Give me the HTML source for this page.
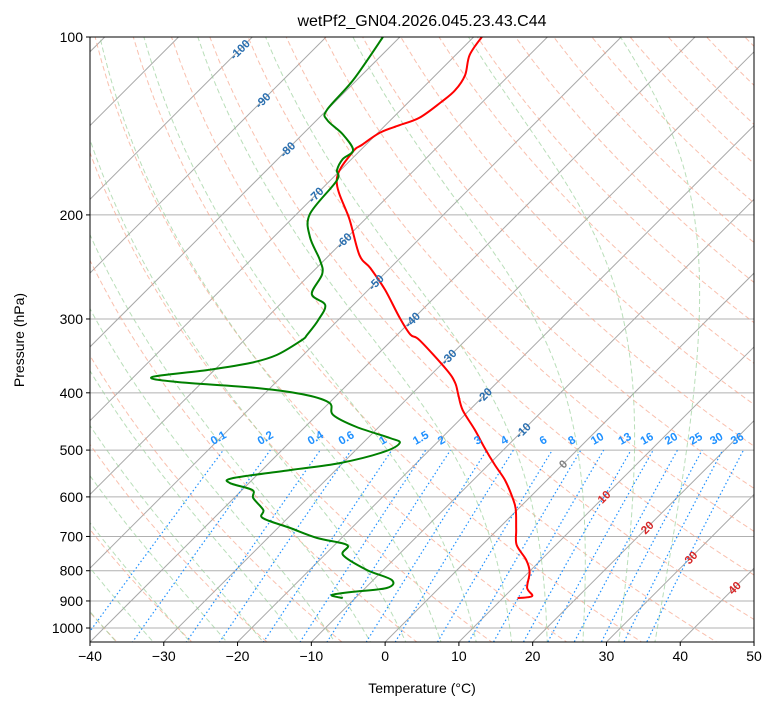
<!DOCTYPE html>
<html><head><meta charset="utf-8"><style>
body{margin:0;background:#fff;}
svg{display:block;font-family:"Liberation Sans","DejaVu Sans",sans-serif;}
</style></head><body>
<svg id="chart" width="775" height="708" viewBox="0 0 775 708">
<defs><clipPath id="plotclip"><rect x="90" y="37" width="664" height="605"/></clipPath></defs>
<rect width="775" height="708" fill="#fff"/>
<g id="bg" clip-path="url(#plotclip)"></g>
<g id="series" clip-path="url(#plotclip)"></g>
<g id="annot"></g>
<rect x="90" y="37" width="664" height="605" fill="none" stroke="#000" stroke-width="1"/>
<g id="axes"></g>
<text x="422" y="26" text-anchor="middle" font-size="16">wetPf2_GN04.2026.045.23.43.C44</text>
<text x="422" y="693" text-anchor="middle" font-size="14">Temperature (°C)</text>
<text transform="translate(24,340) rotate(-90)" text-anchor="middle" font-size="14">Pressure (hPa)</text>
</svg>
<script>
// ---- data ----
const tempP = [100,107.3,116,123,129,137,141,145,152,157,175,204,234,246,268,299,319,326,366,385,403,428,462,496,530,562,603,631,683,724,767,804,855,883,890];
const tempT = [-68.9,-68.1,-66.0,-65.3,-65.6,-66.4,-68.1,-69.7,-70.5,-70.8,-69.1,-62.0,-55.9,-52.7,-47.7,-41.9,-38.2,-36.2,-28.5,-25.6,-23.6,-20.9,-16.6,-12.8,-9.1,-5.7,-2.2,-0.2,2.6,4.7,8.0,10.1,11.9,13.7,12.0];
const dewP = [100,118.2,132.9,138.2,146,155.4,160.9,167.9,175,199.3,217.9,238.5,251.8,272.2,284.1,301.2,319.3,325.6,345.2,356.1,366.1,376.1,383.5,392.6,403.5,416.3,436.1,457,477,486.4,503.9,526,540.5,557.5,568.5,584.2,602.6,631.5,651.5,677.4,704.3,723.8,752.5,797.9,829.5,855.8,869.4,879.6,889.9];
const dewT = [-82.3,-80.5,-80.0,-78.6,-74.6,-71.0,-71.2,-70.5,-69.1,-68.2,-65.1,-60.6,-58.4,-57.1,-53.8,-52.7,-52.2,-52.2,-53.6,-56.1,-61.0,-67.5,-63.4,-51.8,-44.1,-39.9,-37.8,-33.0,-27.0,-25.0,-26.0,-30.4,-36.2,-42.8,-42.6,-38.6,-37.4,-34.4,-33.4,-28.3,-23.3,-18.3,-17.5,-12.2,-7.5,-7.1,-11.5,-13.6,-11.7];
const xTicks = [-40,-30,-20,-10,0,10,20,30,40,50];
const pTicks = [100,200,300,400,500,600,700,800,900,1000];
const isotherms = [-130,-120,-110,-100,-90,-80,-70,-60,-50,-40,-30,-20,-10,0,10,20,30,40,50];
const dryT0 = [-40,-30,-20,-10,0,10,20,30,40,50,60,70,80,90,100,110,120,130,140,150,160,170,180,190,200];
const moistT0 = [-40,-35,-30,-25,-20,-15,-10,-5,0,5,10,15,20,25,30,35];
const mixW = [0.1,0.2,0.4,0.6,1,1.5,2,3,4,6,8,10,13,16,20,25,30,36];
const isoLabelT = [-100,-90,-80,-70,-60,-50,-40,-30,-20,-10,0,10,20,30,40];
const isoLabelP = [105,128,155,185,221,260,301,348,404,463,528,600,676,760,855];

// ---- axis functions ----
const X0=90, X1=754, Y0=37, YB=642, PXD=7.378, PDEC=591;
function yp(p){return Y0+PDEC*Math.log10(p/100);}
function xT(T,p){return X0+(T+40)*PXD+(YB-yp(p));}
const NS='http://www.w3.org/2000/svg';
function mk(tag,attrs,parent){const e=document.createElementNS(NS,tag);for(const k in attrs)e.setAttribute(k,attrs[k]);parent.appendChild(e);return e;}
const bg=document.getElementById('bg'), ser=document.getElementById('series'), ann=document.getElementById('annot'), ax=document.getElementById('axes');
function pathFrom(ps,ts){let d='';for(let i=0;i<ps.length;i++){d+=(i?'L':'M')+xT(ts[i],ps[i]).toFixed(1)+','+yp(ps[i]).toFixed(1);}return d;}
function smoothFrom(ps,ts){
  const pts=ps.map((p,i)=>[xT(ts[i],p),yp(p)]);
  let d='M'+pts[0][0].toFixed(1)+','+pts[0][1].toFixed(1);
  for(let i=0;i<pts.length-1;i++){
    const p0=pts[Math.max(0,i-1)],p1=pts[i],p2=pts[i+1],p3=pts[Math.min(pts.length-1,i+2)];
    const c1=[p1[0]+(p2[0]-p0[0])/6,p1[1]+(p2[1]-p0[1])/6];
    const c2=[p2[0]-(p3[0]-p1[0])/6,p2[1]-(p3[1]-p1[1])/6];
    d+='C'+c1.map(v=>v.toFixed(1)).join(',')+' '+c2.map(v=>v.toFixed(1)).join(',')+' '+p2.map(v=>v.toFixed(1)).join(',');
  }
  return d;
}

pTicks.forEach(p=>{
  const l=mk('line',{x1:X0,x2:X1,y1:yp(p),y2:yp(p),stroke:'#b0b0b0','stroke-width':1},bg);
  
  
});
isotherms.forEach(T=>{
  const l=mk('line',{x1:xT(T,1100),y1:yp(1100),x2:xT(T,90),y2:yp(90),stroke:'#a8a8a8','stroke-width':1},bg);
  
  
});
const pLev=[];for(let p=1100;p>=90;p-=10)pLev.push(p);
dryT0.forEach(t0=>{
  const th=t0+273.15;const ts=pLev.map(p=>th*Math.pow(p/1000,0.2857)-273.15);
  const e=mk('path',{d:pathFrom(pLev,ts),fill:'none',stroke:'#f7a58c','stroke-width':1,'stroke-dasharray':'5,3',opacity:0.7},bg);
  
  
});
function es(T){return 6.112*Math.exp(17.67*T/(T+243.5));}
function dTdp(T,p){const Tk=T+273.15;const rs=0.622*es(T)/(p-es(T));const Rd=287,cp=1005,Lv=2.5e6;
  return (1/p)*(Rd*Tk+Lv*rs)/(cp+Lv*Lv*rs*0.622/(Rd*Tk*Tk));}
function moist(t0){const up=[],dn=[];let T=t0;for(let p=1000;p>=100;p-=5){up.push([p,T]);T-=dTdp(T,p)*5;}
  T=t0;for(let p=1000;p<=1100;p+=5){dn.push([p,T]);T+=dTdp(T,p)*5;}
  const all=dn.reverse().concat(up.slice(1));return [all.map(a=>a[0]),all.map(a=>a[1])];}
moistT0.forEach(t0=>{
  const m=moist(t0);
  const e=mk('path',{d:pathFrom(m[0],m[1]),fill:'none',stroke:'#9bd09b','stroke-width':1,'stroke-dasharray':'5,3',opacity:0.7},bg);
  
  
});
function tdw(w,p){const e=w*p/(622+w);const l=Math.log(e/6.112);return 243.5*l/(17.67-l);}
const mixP=[];for(let p=1100;p>=500;p-=10)mixP.push(p);
mixW.forEach(w=>{
  const e=mk('path',{d:pathFrom(mixP,mixP.map(p=>tdw(w,p))),fill:'none',stroke:'#1e90ff','stroke-width':1.2,'stroke-dasharray':'1.5,2.5'},bg);
  
  
  const x=xT(tdw(w,500),500), y=yp(500)-5;
  const t=mk('text',{x:x-10,y:y,'font-size':11.5,'font-weight':'bold',fill:'#1e90ff',transform:`rotate(-30 ${x-10} ${y})`},ann);
  t.textContent=String(w);
  
  
});
isoLabelT.forEach((T,i)=>{
  const p=isoLabelP[i], x=xT(T,p), y=yp(p);
  const col=T<0?'#2a6fb0':(T===0?'#808080':'#d62728');
  const t=mk('text',{x:x,y:y+4,'font-size':11.5,'font-weight':'bold',fill:col,'text-anchor':'middle',transform:`rotate(-45 ${x} ${y})`},ann);
  t.textContent=String(T);
  
  
});
const tl=mk('path',{d:smoothFrom(tempP,tempT),fill:'none',stroke:'#ff0000','stroke-width':2,'stroke-linejoin':'round'},ser);


const dl=mk('path',{d:smoothFrom(dewP,dewT),fill:'none',stroke:'#008000','stroke-width':2,'stroke-linejoin':'round'},ser);


xTicks.forEach(T=>{
  const x=X0+(T+40)*PXD;
  mk('line',{x1:x,x2:x,y1:YB,y2:YB+4,stroke:'#000'},ax);
  const t=mk('text',{x:x,y:YB+19,'font-size':14,'text-anchor':'middle'},ax);
  t.textContent=String(T).replace('-','\u2212');
  
  
});
pTicks.forEach(p=>{
  const y=yp(p);
  mk('line',{x1:X0-4,x2:X0,y1:y,y2:y,stroke:'#000'},ax);
  const t=mk('text',{x:X0-7,y:y+5,'font-size':14,'text-anchor':'end'},ax);
  t.textContent=String(p);
  
  
});
</script>
</body></html>
